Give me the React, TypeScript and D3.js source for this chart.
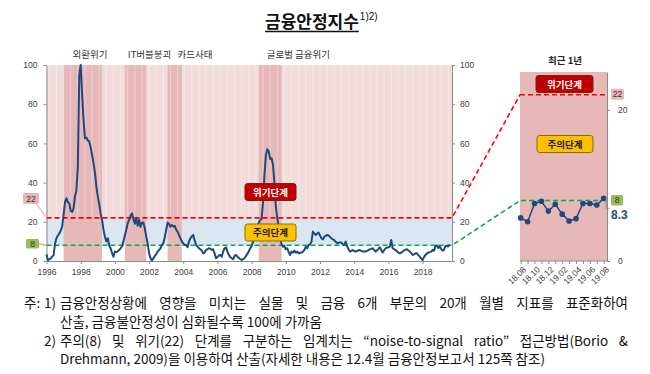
import React, { useRef, useEffect } from 'react';
import * as d3 from 'd3';

const WIDTH = 650;
const HEIGHT = 374;

// 금융안정지수 (monthly, 1996.01 ~ 2019.08)
const startYear = 1996;
const fsiValues: number[] = [
  3.5, 0.5, 0.8, 1.4, 2.2, 3.0, 9.0, 11.6, 13, 14, 15.5, 17.5, // 1996
  23.5, 30, 32, 30, 29.4, 25.5, 25, 27, 33, 36, 48, 95, // 1997
  100, 85, 72, 62.6, 63, 61.5, 61, 58, 54, 50, 45, 38, // 1998
  33, 29, 24, 21, 16, 12.4, 10, 11.6, 8, 6.5, 4, 2.2, // 1999
  4.8, 4.5, 5, 5.6, 6.5, 7.5, 10, 13, 16, 19.2, 21, 23, // 2000
  24.3, 21.5, 19, 22, 18, 21, 17.5, 19.5, 19.6, 16.7, 12.5, 9, // 2001
  4, 1.5, 0.2, 1.4, 2.5, 3.5, 4.8, 5.6, 6.5, 8.2, 9, 12, // 2002
  15.8, 19.6, 18.9, 17.5, 18.4, 17.5, 17.9, 16, 15, 13.3, 11.6, 10, // 2003
  9, 8.2, 8.2, 7, 9.9, 11.6, 12.5, 13.3, 10.5, 8.2, 7.3, 6.5, // 2004
  6, 5.3, 3.9, 4.3, 5.6, 6, 6.5, 6.3, 5.6, 6, 3.9, 1.4, // 2005
  2, 2.8, 3.1, 2.2, 4.8, 6.5, 7, 4.8, 3.1, 2, 1.4, 0.9, // 2006
  2.6, 3.1, 2.2, 1.6, 1.0, 0.5, 0.9, 1.4, 2.6, 3.6, 5, 6.5, // 2007
  7.7, 9.9, 12, 15, 17.5, 19.5, 21, 21.5, 30, 44, 54, 57, // 2008
  56, 52, 52.4, 49, 40, 27.7, 21.8, 17.5, 12, 8.5, 7.3, 7.7, // 2009
  6, 6.5, 4.5, 3.1, 4.8, 4.3, 5.3, 4.3, 4.8, 3.9, 4.2, 4.3, // 2010
  4.8, 5.6, 7.3, 6.5, 8.2, 8.5, 9.9, 15, 14, 13.3, 14, 14.5, // 2011
  13, 11.6, 11, 12.4, 12.8, 13.3, 13, 12.3, 11.6, 11, 10.7, 9.8, // 2012
  9, 9.4, 9.4, 9.4, 8.6, 8.2, 9.9, 7.5, 6, 4.8, 5.2, 5.6, // 2013
  5.2, 4.8, 5.2, 5.4, 5.6, 5.2, 4.8, 4.8, 4.8, 5.2, 5.6, 6, // 2014
  6.2, 6.5, 5.6, 4.8, 5.5, 6.2, 7, 5.6, 4.3, 5.5, 6.5, 6.8, // 2015
  7, 7.3, 10.7, 6.5, 6, 5.6, 5, 4.3, 3.9, 4.3, 4.8, 5.4, // 2016
  5.8, 6, 5.4, 4.8, 4, 3.1, 3.4, 3.9, 3.9, 3, 2.2, 1.2, // 2017
  0.5, 2, 3.1, 3.8, 4.3, 4.5, 4.8, 5.7, 5.2, 7.6, 7.9, 6.6, // 2018
  7.5, 6.2, 5.3, 5.6, 7.6, 7.6, 7.4, 8.3, // 2019
];

// 위기 구간
const crisisNames = ['외환위기', 'IT버블붕괴', '카드사태', '글로벌 금융위기'];
const crisisFrom = ['1997.01', '2000.08', '2003.02', '2008.06'];
const crisisTo = ['1999.04', '2001.11', '2003.12', '2009.10'];

// 임계치
const warnLevel = 8;
const crisisLevel = 22;

// 최근 1년
const recentLabels = ['18.08', '18.09', '18.10', '18.11', '18.12', '19.01', '19.02', '19.03', '19.04', '19.05', '19.06', '19.07', '19.08'];
const recentValues = [5.7, 5.2, 7.6, 7.9, 6.6, 7.5, 6.2, 5.3, 5.6, 7.6, 7.6, 7.4, 8.3];

// 축 눈금
const yTicks = [0, 20, 40, 60, 80, 100];
const yearTicks = [1996, 1998, 2000, 2002, 2004, 2006, 2008, 2010, 2012, 2014, 2016, 2018];
const panelTicks = [0, 20];

const notes = [
  '금융안정상황에 영향을 미치는 실물 및 금융 6개 부문의 20개 월별 지표를 표준화하여',
  '산출, 금융불안정성이 심화될수록 100에 가까움',
  '주의(8) 및 위기(22) 단계를 구분하는 임계치는 “noise-to-signal ratio” 접근방법(Borio &',
  'Drehmann, 2009)을 이용하여 산출(자세한 내용은 12.4월 금융안정보고서 125쪽 참조)',
];

const KR = "'Noto Sans CJK KR', 'Noto Sans', sans-serif";
const NUM = "'Liberation Sans', Arial, sans-serif";

const PINK = '#f2dcdb';
const DARK_PINK = '#e6b8b7';
const BLUE_BAND = '#dce6f1';
const NAVY = '#1f497d';
const RED = '#ff0000';
const GREEN = '#00b050';

const toTime = (s: string) => {
  const [yy, mm] = s.split('.').map(Number);
  return yy + (mm - 1) / 12;
};

function App() {
  const ref = useRef<SVGSVGElement>(null);

  useEffect(() => {
    const svg = d3.select(ref.current);
    svg.selectAll('*').remove();

    const series = fsiValues.map((v, i) => ({ t: startYear + i / 12, v }));

    const x = d3.scaleLinear().domain([1996, 2019.72]).range([46.5, 452]);
    const y = d3.scaleLinear().domain([0, 100]).range([261, 65]);

    const PANEL_L = 520;
    const PANEL_R = 607;
    const px = d3.scalePoint().domain(recentLabels).range([520.7, 603.7]);
    const py = d3.scaleLinear().domain([0, 25]).range([261, 72]);

    const [x0, x1] = x.range();

    // title
    const title = svg.append('text')
      .attr('x', 265).attr('y', 28)
      .attr('font-family', KR).attr('font-size', 17).attr('font-weight', 700)
      .attr('fill', '#111')
      .text('금융안정지수');
    const tw = (title.node() as SVGTextElement).getComputedTextLength();
    svg.append('line')
      .attr('x1', 265).attr('x2', 265 + tw).attr('y1', 31.5).attr('y2', 31.5)
      .attr('stroke', '#111').attr('stroke-width', 1.3);
    svg.append('text')
      .attr('x', 266 + tw).attr('y', 20)
      .attr('font-family', NUM).attr('font-size', 10).attr('fill', '#111')
      .text('1)2)');

    // backgrounds
    svg.append('rect')
      .attr('x', x0).attr('y', y(100)).attr('width', x1 - x0).attr('height', y(crisisLevel) - y(100))
      .attr('fill', PINK);
    svg.append('rect')
      .attr('x', x0).attr('y', y(crisisLevel)).attr('width', x1 - x0).attr('height', y(warnLevel) - y(crisisLevel))
      .attr('fill', BLUE_BAND);

    svg.append('g')
      .selectAll('rect')
      .data(crisisNames)
      .join('rect')
      .attr('x', (_, i) => x(toTime(crisisFrom[i])))
      .attr('width', (_, i) => x(toTime(crisisTo[i])) - x(toTime(crisisFrom[i])))
      .attr('y', y(100))
      .attr('height', y(0) - y(100))
      .attr('fill', DARK_PINK);

    // faint column stripes in the shaded area
    svg.append('g')
      .selectAll('line')
      .data(series.filter((_, i) => i % 5 === 2))
      .join('line')
      .attr('x1', d => x(d.t)).attr('x2', d => x(d.t))
      .attr('y1', y(100)).attr('y2', y(crisisLevel))
      .attr('stroke', '#fff').attr('stroke-opacity', 0.35).attr('stroke-width', 1);

    // crisis labels
    const labelDx = [9, 3, 10, 8];
    svg.append('g')
      .selectAll('text')
      .data(crisisNames)
      .join('text')
      .attr('x', (_, i) => x(toTime(crisisFrom[i])) + labelDx[i])
      .attr('y', 58)
      .attr('font-family', KR).attr('font-size', 9.5).attr('fill', '#333')
      .text(d => d);

    // axes
    const styleAxis = (g: d3.Selection<SVGGElement, unknown, null, undefined>) => {
      g.select('.domain').attr('stroke', '#8c8c8c');
      g.selectAll('.tick line').attr('stroke', '#8c8c8c');
      g.selectAll('.tick text').attr('fill', '#404040').attr('font-family', NUM).attr('font-size', 8.5);
    };

    svg.append('g')
      .attr('transform', `translate(${x0},0)`)
      .call(d3.axisLeft(y).tickValues(yTicks).tickSize(3).tickSizeOuter(0).tickPadding(6))
      .call(styleAxis);
    svg.append('g')
      .attr('transform', `translate(${x1},0)`)
      .call(d3.axisRight(y).tickValues(yTicks).tickSize(3).tickSizeOuter(0).tickPadding(5))
      .call(styleAxis);
    svg.append('g')
      .attr('transform', `translate(0,${y(0)})`)
      .call(d3.axisBottom(x).tickValues(yearTicks).tickFormat(d3.format('d')).tickSize(3).tickSizeOuter(0).tickPadding(5))
      .call(styleAxis);

    // threshold lines (main -> panel)
    const link = d3.line();
    svg.append('path')
      .attr('d', link([[x0, y(crisisLevel)], [x1, y(crisisLevel)], [PANEL_L, py(crisisLevel)], [PANEL_R, py(crisisLevel)]]))
      .attr('fill', 'none').attr('stroke', RED).attr('stroke-width', 1.6).attr('stroke-dasharray', '5,3');

    // panel background
    svg.append('rect')
      .attr('x', PANEL_L).attr('y', py(25)).attr('width', PANEL_R - PANEL_L).attr('height', py(0) - py(25))
      .attr('fill', DARK_PINK);

    svg.append('path')
      .attr('d', link([[PANEL_L, py(crisisLevel)], [PANEL_R, py(crisisLevel)]]))
      .attr('fill', 'none').attr('stroke', RED).attr('stroke-width', 1.6).attr('stroke-dasharray', '5,3');
    svg.append('path')
      .attr('d', link([[x0, y(warnLevel)], [x1, y(warnLevel)], [PANEL_L, py(warnLevel)], [PANEL_R, py(warnLevel)]]))
      .attr('fill', 'none').attr('stroke', GREEN).attr('stroke-width', 1.6).attr('stroke-dasharray', '5,3');

    // main line
    const line = d3.line<{ t: number; v: number }>().x(d => x(d.t)).y(d => y(d.v));
    svg.append('path')
      .datum(series)
      .attr('d', line)
      .attr('fill', 'none').attr('stroke', NAVY).attr('stroke-width', 2).attr('stroke-linejoin', 'round');

    // stage boxes
    const stageBox = (cx: number, cy: number, w: number, label: string, fill: string, stroke: string, color: string) => {
      const g = svg.append('g');
      g.append('rect')
        .attr('x', cx - w / 2).attr('y', cy - 8.5).attr('width', w).attr('height', 17).attr('rx', 2.5)
        .attr('fill', fill).attr('stroke', stroke).attr('stroke-width', 1);
      g.append('text')
        .attr('x', cx).attr('y', cy + 3.5).attr('text-anchor', 'middle')
        .attr('font-family', KR).attr('font-size', 9.5).attr('font-weight', 700).attr('fill', color)
        .text(label);
    };
    stageBox(270.5, 192, 51, '위기단계', '#c00000', '#7f1d1d', '#fff');
    stageBox(270.5, 232.5, 51, '주의단계', '#ffc000', '#8a6d00', '#1a1a1a');
    stageBox(564.5, 84, 57, '위기단계', '#c00000', '#7f1d1d', '#fff');
    stageBox(565, 144, 56, '주의단계', '#ffc000', '#8a6d00', '#1a1a1a');

    // threshold callouts
    const callout = (bx: number, by: number, w: number, h: number, label: string, fill: string, tail?: [number, number][]) => {
      const g = svg.append('g');
      if (tail) {
        g.append('path').attr('d', d3.line()(tail)).attr('fill', 'none').attr('stroke', fill).attr('stroke-width', 1.2);
      }
      g.append('rect').attr('x', bx).attr('y', by).attr('width', w).attr('height', h).attr('rx', 1.5).attr('fill', fill);
      g.append('text')
        .attr('x', bx + w / 2).attr('y', by + h / 2 + 3).attr('text-anchor', 'middle')
        .attr('font-family', NUM).attr('font-size', 8.5).attr('fill', '#333')
        .text(label);
    };
    callout(23, 193, 16, 11, String(crisisLevel), DARK_PINK, [[36, 203], [x0, y(crisisLevel)]]);
    callout(26, 239, 13, 9.5, String(warnLevel), '#9bbb59', [[38, 243.5], [x0, y(warnLevel)]]);
    callout(611, py(crisisLevel) - 6, 13, 11, String(crisisLevel), DARK_PINK);
    callout(611, py(warnLevel) - 5.5, 12, 10.5, String(warnLevel), '#9bbb59');

    // panel axes
    svg.append('g')
      .attr('transform', `translate(${PANEL_R},0)`)
      .call(d3.axisRight(py).tickValues(panelTicks).tickSize(3).tickSizeOuter(0).tickPadding(8))
      .call(styleAxis);
    const bx = svg.append('g')
      .attr('transform', `translate(0,${py(0)})`)
      .call(d3.axisBottom(px).tickSize(3).tickSizeOuter(0).tickFormat((d, i) => (i % 2 === 0 ? d : '')))
      .call(styleAxis);
    bx.select('.domain').attr('d', `M${PANEL_L},0H${PANEL_R}`);
    bx.selectAll('.tick text')
      .attr('text-anchor', 'end')
      .attr('transform', 'rotate(-45)')
      .attr('dx', '-0.3em').attr('dy', '0.5em');

    // panel series
    const pline = d3.line<number>().x((_, i) => px(recentLabels[i]) as number).y(d => py(d));
    svg.append('path')
      .datum(recentValues)
      .attr('d', pline)
      .attr('fill', 'none').attr('stroke', NAVY).attr('stroke-width', 1.5);
    svg.append('g')
      .selectAll('circle')
      .data(recentValues)
      .join('circle')
      .attr('cx', (_, i) => px(recentLabels[i]) as number)
      .attr('cy', d => py(d))
      .attr('r', 2.8)
      .attr('fill', NAVY);

    const lastV = recentValues[recentValues.length - 1];
    const lastX = px(recentLabels[recentLabels.length - 1]) as number;
    svg.append('path')
      .attr('d', link([[lastX + 2, py(lastV)], [lastX + 2.5, py(lastV)], [lastX + 2.5, py(lastV) + 10], [lastX + 6, py(lastV) + 10]]))
      .attr('fill', 'none').attr('stroke', '#7f7f7f').attr('stroke-width', 0.8);
    svg.append('text')
      .attr('x', 611).attr('y', py(lastV) + 21)
      .attr('font-family', NUM).attr('font-size', 12).attr('font-weight', 700).attr('fill', NAVY)
      .text(String(lastV));

    svg.append('text')
      .attr('x', 565).attr('y', 64).attr('text-anchor', 'middle')
      .attr('font-family', KR).attr('font-size', 9.5).attr('font-weight', 700).attr('fill', '#222')
      .text('최근 1년');

    // notes (lines 1 and 3 justified by word spacing, as in the source)
    const nf = svg.append('g').attr('font-family', KR).attr('font-size', 13.5).attr('fill', '#111');
    const noteLine = (xx: number, yy: number, text: string, justifyTo?: number) => {
      const t = nf.append('text').attr('x', xx).attr('y', yy).text(text);
      if (justifyTo) {
        const w = (t.node() as SVGTextElement).getComputedTextLength();
        const gaps = text.split(' ').length - 1;
        if (gaps > 0 && justifyTo > w) t.attr('word-spacing', (justifyTo - w) / gaps);
      }
    };
    noteLine(24, 308, '주:');
    noteLine(44, 308, '1)');
    noteLine(60, 308, notes[0], 628 - 60);
    noteLine(60, 326.5, notes[1]);
    noteLine(44, 345.5, '2)');
    noteLine(60, 345.5, notes[2], 628 - 60);
    noteLine(60, 364, notes[3]);
  }, []);

  return (
    <svg
      ref={ref}
      width={WIDTH}
      height={HEIGHT}
      style={{ position: 'absolute', left: 0, top: 0, background: '#fff' }}
    />
  );
}

export default App;
